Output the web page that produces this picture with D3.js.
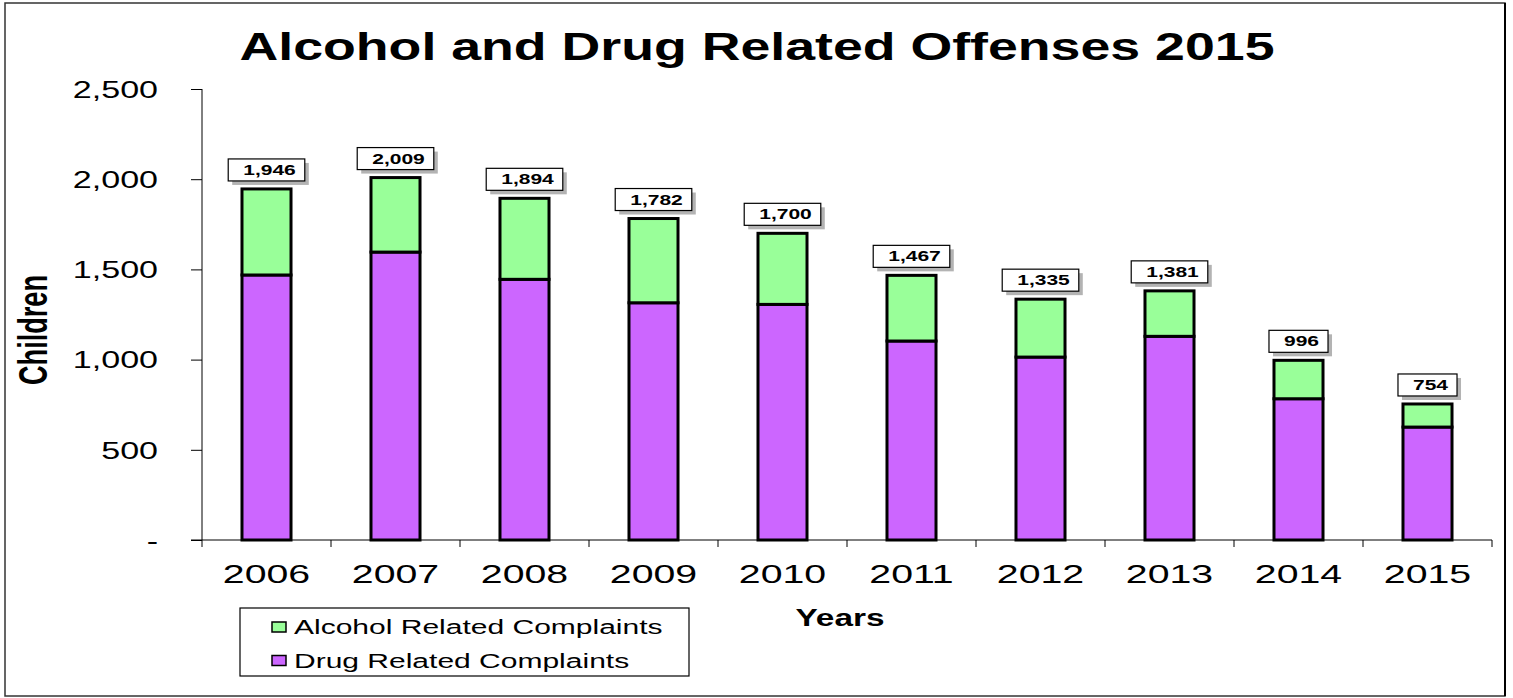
<!DOCTYPE html>
<html>
<head>
<meta charset="utf-8">
<script src="https://cdn.jsdelivr.net/npm/d3@7"></script>
<style>
  html, body { margin: 0; padding: 0; background: #fff; }
  svg { display: block; font-family: "Liberation Sans", Arial, sans-serif; }
</style>
</head>
<body>
<div id="chart"></div>
<script>
// Datos
const years = ["2006", "2007", "2008", "2009", "2010", "2011", "2012", "2013", "2014", "2015"];
const drugValues = [1469, 1596, 1445, 1315, 1306, 1103, 1014, 1129, 783, 626];
const alcoholValues = [477, 413, 449, 467, 394, 364, 321, 252, 213, 128];
const totalLabels = [1946, 2009, 1894, 1782, 1700, 1467, 1335, 1381, 996, 754];
const yTicks = [0, 500, 1000, 1500, 2000, 2500];
const seriesNames = ["Alcohol Related Complaints", "Drug Related Complaints"];
const seriesColors = { drug: "#CC66FF", alcohol: "#99FF99" };

// El texto del original está estirado en horizontal
function stretch(sel, k) {
    sel.each(function() {
        const n = this.getComputedTextLength();
        d3.select(this)
            .attr("textLength", n * k)
            .attr("lengthAdjust", "spacingAndGlyphs");
    });
}

function renderChart() {
    const W = 1513, H = 698;
    const svg = d3.select("#chart").append("svg")
        .attr("width", W).attr("height", H);

    // Marco exterior
    svg.append("rect")
        .attr("x", 5).attr("y", 3)
        .attr("width", 1500).attr("height", 693)
        .style("fill", "#fff")
        .style("stroke", "#333")
        .style("stroke-width", 1.5);
    svg.append("line")
        .attr("x1", 1505).attr("x2", 1505)
        .attr("y1", 3).attr("y2", 696)
        .style("stroke", "#000")
        .style("stroke-width", 2);

    const plot = { left: 202, right: 1492, top: 89, bottom: 540 };

    const x = d3.scaleBand()
        .domain(years)
        .range([plot.left, plot.right])
        .paddingInner(0.62)
        .paddingOuter(0.31);

    const y = d3.scaleLinear()
        .domain([0, 2500])
        .range([plot.bottom, plot.top]);

    // Título
    svg.append("text")
        .attr("x", 757).attr("y", 60)
        .attr("text-anchor", "middle")
        .style("font-size", "38px")
        .style("font-weight", "bold")
        .attr("textLength", 1035)
        .attr("lengthAdjust", "spacingAndGlyphs")
        .text("Alcohol and Drug Related Offenses 2015");

    // Eje Y
    const yAxis = svg.append("g")
        .attr("transform", `translate(${plot.left},0)`)
        .call(d3.axisLeft(y)
            .tickValues(yTicks)
            .tickSize(11)
            .tickPadding(33)
            .tickFormat(d => d === 0 ? "-" : d3.format(",")(d)));
    yAxis.select(".domain").attr("d", `M0,${plot.bottom}V${plot.top}`).style("stroke", "#000");
    yAxis.selectAll(".tick line").style("stroke", "#000");
    yAxis.selectAll(".tick text")
        .style("font-size", "23px")
        .style("fill", "#000")
        .attr("dy", "0.36em")
        .call(stretch, 1.48);

    // Eje X
    const xAxis = svg.append("g")
        .attr("transform", `translate(0,${plot.bottom})`)
        .call(d3.axisBottom(x).tickSize(0).tickPadding(25));
    xAxis.select(".domain").remove();
    xAxis.append("line")
        .attr("x1", plot.left - 11).attr("x2", plot.right)
        .style("stroke", "#000");
    // marcas entre categorías
    const edges = years.map((d, i) => plot.left + i * x.step()).concat([plot.right]);
    xAxis.selectAll(".sep").data(edges).enter().append("line")
        .attr("class", "sep")
        .attr("x1", d => d).attr("x2", d => d)
        .attr("y1", 0).attr("y2", 7)
        .style("stroke", "#000");
    xAxis.selectAll(".tick text")
        .style("font-size", "25px")
        .style("fill", "#000")
        .call(stretch, 1.57);

    // Etiquetas de ejes
    svg.append("text")
        .attr("transform", "translate(47,330) rotate(-90)")
        .attr("text-anchor", "middle")
        .style("font-size", "40px")
        .style("font-weight", "bold")
        .attr("textLength", 110)
        .attr("lengthAdjust", "spacingAndGlyphs")
        .text("Children");

    svg.append("text")
        .attr("x", 840).attr("y", 626)
        .attr("text-anchor", "middle")
        .style("font-size", "23px")
        .style("font-weight", "bold")
        .text("Years")
        .call(stretch, 1.45);

    // Datos apilados
    const rows = years.map((yr, i) => ({ year: yr, drug: drugValues[i], alcohol: alcoholValues[i] }));
    const stacked = d3.stack().keys(["drug", "alcohol"])(rows);

    svg.append("g").selectAll("g")
        .data(stacked)
        .enter().append("g")
        .style("fill", d => seriesColors[d.key])
        .selectAll("rect")
        .data(d => d)
        .enter().append("rect")
        .attr("x", d => x(d.data.year))
        .attr("y", d => y(d[1]))
        .attr("width", x.bandwidth())
        .attr("height", d => y(d[0]) - y(d[1]))
        .style("stroke", "#000")
        .style("stroke-width", 3);

    // Etiquetas de totales
    const labels = svg.append("g").selectAll("g")
        .data(years.map((yr, i) => ({ year: yr, total: totalLabels[i] })))
        .enter().append("g");

    labels.each(function(d) {
        const g = d3.select(this);
        const cx = x(d.year) + x.bandwidth() / 2;
        const boxBottom = y(d.total) - 8;
        const txt = g.append("text")
            .attr("y", boxBottom - 6)
            .style("font-size", "14px")
            .style("font-weight", "bold")
            .text(d3.format(",")(d.total))
            .call(stretch, 1.5);
        const tw = +txt.attr("textLength");
        const bw = tw + 24;
        const bx = cx - bw / 2;
        g.insert("rect", "text")
            .attr("x", bx + 4).attr("y", boxBottom - 22 + 4)
            .attr("width", bw).attr("height", 22)
            .style("fill", "#b3b3b3");
        g.insert("rect", "text")
            .attr("x", bx).attr("y", boxBottom - 22)
            .attr("width", bw).attr("height", 22)
            .style("fill", "#fff")
            .style("stroke", "#000")
            .style("stroke-width", 1.2);
        txt.attr("x", bx + 15);
    });

    // Leyenda
    const legend = svg.append("g");
    legend.append("rect")
        .attr("x", 240).attr("y", 608)
        .attr("width", 449).attr("height", 68)
        .style("fill", "#fff")
        .style("stroke", "#000")
        .style("stroke-width", 1.2);
    const legendItems = legend.selectAll(".legend-item")
        .data([{ name: seriesNames[0], key: "alcohol" }, { name: seriesNames[1], key: "drug" }])
        .enter().append("g")
        .attr("class", "legend-item")
        .attr("transform", (d, i) => `translate(272, ${627 + i * 33.5})`);
    legendItems.append("rect")
        .attr("x", 0).attr("y", -5)
        .attr("width", 14).attr("height", 10)
        .style("fill", d => seriesColors[d.key])
        .style("stroke", "#000")
        .style("stroke-width", 1.5);
    legendItems.append("text")
        .attr("x", 22).attr("y", 7)
        .style("font-size", "20px")
        .text(d => d.name)
        .call(stretch, 1.5);
}

renderChart();
</script>
</body>
</html>
